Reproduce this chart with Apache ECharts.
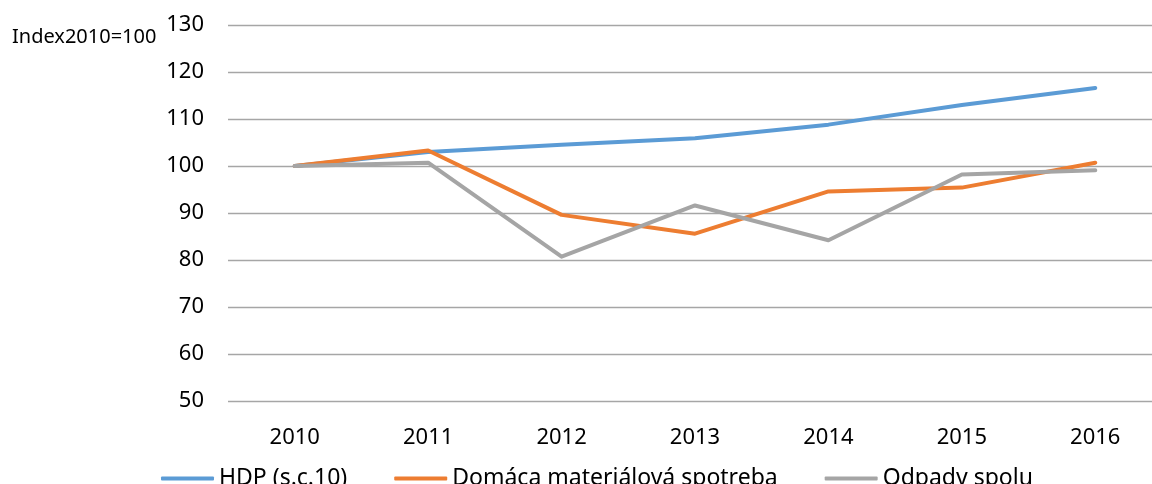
<!DOCTYPE html>
<html>
<head>
<meta charset="utf-8">
<script src="https://cdn.jsdelivr.net/npm/echarts@6/dist/echarts.min.js"></script>
<style>
  html, body { margin: 0; padding: 0; background: #fff; }
  #chart { width: 1152px; height: 484px; }
</style>
</head>
<body>
<div id="chart"></div>
<script>
var chartDom = document.getElementById('chart');
var chart = echarts.init(chartDom);

// roky
var years = ['2010', '2011', '2012', '2013', '2014', '2015', '2016'];
// index 2010 = 100
var hdp = [100, 103.0, 104.5, 105.9, 108.8, 113.0, 116.6];
var dms = [100, 103.3, 89.6, 85.6, 94.6, 95.4, 100.7];
var odpady = [100, 100.7, 80.7, 91.6, 84.2, 98.2, 99.1];
var seriesNames = ['HDP (s.c.10)', 'Domáca materiálová spotreba', 'Odpady spolu'];
var colors = ['#5B9BD5', '#ED7D31', '#A5A5A5'];

var font = 'Noto Sans';

function lineSeries(name, data, color) {
    return {
        name: name,
        type: 'line',
        data: data,
        showSymbol: false,
        symbol: 'none',
        lineStyle: { color: color, width: 4, cap: 'round', join: 'round' },
        itemStyle: { color: color },
        emphasis: { disabled: true },
        animation: false
    };
}

var option = {
    backgroundColor: '#fff',
    textStyle: { fontFamily: font },
    // plocha grafu presahuje pravy okraj obrazka
    grid: {
        left: 228,
        right: -10,
        top: 25,
        bottom: 83,
        containLabel: false,
        outerBoundsMode: 'none'
    },
    legend: {
        left: 156,
        top: 462,
        itemWidth: 53,
        itemHeight: 4,
        itemGap: 47,
        icon: 'roundRect',
        textStyle: { fontFamily: font, fontSize: 23, color: '#000' },
        data: seriesNames
    },
    graphic: [{
        type: 'text',
        left: 12,
        top: 27,
        style: {
            text: 'Index2010=100',
            font: '20px "Noto Sans"',
            fill: '#000'
        }
    }],
    xAxis: {
        type: 'category',
        data: years,
        boundaryGap: true,
        axisLine: { show: false },
        axisTick: { show: false },
        axisLabel: { fontFamily: font, fontSize: 22, color: '#000', margin: 26 }
    },
    yAxis: {
        type: 'value',
        min: 50,
        max: 130,
        interval: 10,
        axisLine: { show: false },
        axisTick: { show: false },
        axisLabel: { fontFamily: font, fontSize: 22, color: '#000', margin: 24 },
        splitLine: { lineStyle: { color: '#A6A6A6', width: 1.3 } }
    },
    series: [
        lineSeries(seriesNames[0], hdp, colors[0]),
        lineSeries(seriesNames[1], dms, colors[1]),
        lineSeries(seriesNames[2], odpady, colors[2])
    ]
};

chart.setOption(option);
</script>
</body>
</html>
